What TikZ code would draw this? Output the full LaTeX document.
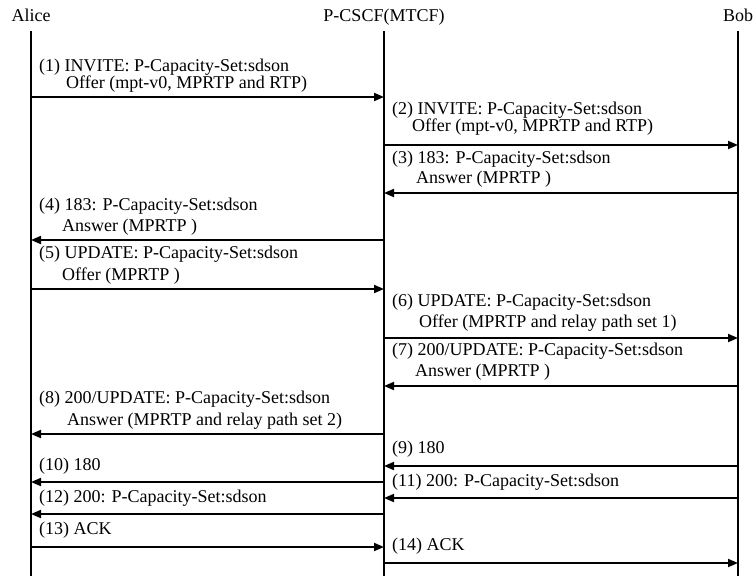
\documentclass[tikz,border=0pt]{standalone}
\usepackage{fontspec}
\setmainfont{Liberation Serif}
\usetikzlibrary{arrows.meta}

\begin{document}
\begin{tikzpicture}[x=1pt,y=-1pt,
  life/.style={line width=1.4pt},
  msg/.style={line width=1.8pt,-{Triangle[length=10pt,width=8pt]}},
  lbl/.style={anchor=west,inner sep=0pt,font=\fontsize{18}{20}\selectfont,text height=12.5pt,text depth=4pt}]
  \useasboundingbox (0,0) rectangle (754,576);
  % parties and lifelines
  \foreach \p/\x/\t in {alice/31/Alice,pcscf/384/P-CSCF(MTCF),bob/738/Bob}{
    \node[lbl,anchor=center] (\p) at (\x,17){\t};
    \coordinate (\p top) at (\x,31);
    \coordinate (\p end) at (\x,576);
    \draw[life] (\p top)--(\p end);}
  % messages
  \foreach \n/\y/\f/\t in {1/97/alice/pcscf,2/145/pcscf/bob,3/193/bob/pcscf,4/240/pcscf/alice,
    5/289/alice/pcscf,6/338/pcscf/bob,7/386/bob/pcscf,8/434/pcscf/alice,9/466/bob/pcscf,
    10/482/pcscf/alice,11/498/bob/pcscf,12/514/pcscf/alice,13/547/alice/pcscf,14/563/pcscf/bob}{
    \coordinate (m\n a) at (\f top |- 0,\y);
    \coordinate (m\n b) at (\t top |- 0,\y);
    \draw[msg] (m\n a)--(m\n b);}
  % labels
  \node[lbl] (t1) at (39,67){(1) INVITE: P-Capacity-Set:sdson};
  \node[lbl] (t1b) at (66,84){Offer (mpt-v0, MPRTP and RTP)};
  \node[lbl] (t2) at (392,110){(2) INVITE: P-Capacity-Set:sdson};
  \node[lbl] (t2b) at (412,127){Offer (mpt-v0, MPRTP and RTP)};
  \node[lbl] (t3) at (392,159){(3) 183: P-Capacity-Set:sdson};
  \node[lbl] (t3b) at (416,179){Answer (MPRTP )};
  \node[lbl] (t4) at (39,206){(4) 183: P-Capacity-Set:sdson};
  \node[lbl] (t4b) at (62,227){Answer (MPRTP )};
  \node[lbl] (t5) at (39,254){(5) UPDATE: P-Capacity-Set:sdson};
  \node[lbl] (t5b) at (62,276){Offer (MPRTP )};
  \node[lbl] (t6) at (392,302){(6) UPDATE: P-Capacity-Set:sdson};
  \node[lbl] (t6b) at (419,323){Offer (MPRTP and relay path set 1)};
  \node[lbl] (t7) at (392,351){(7) 200/UPDATE: P-Capacity-Set:sdson};
  \node[lbl] (t7b) at (415,372){Answer (MPRTP )};
  \node[lbl] (t8) at (39,399){(8) 200/UPDATE: P-Capacity-Set:sdson};
  \node[lbl] (t8b) at (67,421){Answer (MPRTP and relay path set 2)};
  \node[lbl] (t9) at (392,449){(9) 180};
  \node[lbl] (t10) at (39,466){(10) 180};
  \node[lbl] (t11) at (392,482){(11) 200: P-Capacity-Set:sdson};
  \node[lbl] (t12) at (39,498){(12) 200: P-Capacity-Set:sdson};
  \node[lbl] (t13) at (39,530){(13) ACK};
  \node[lbl] (t14) at (392,546){(14) ACK};
\end{tikzpicture}
\end{document}
